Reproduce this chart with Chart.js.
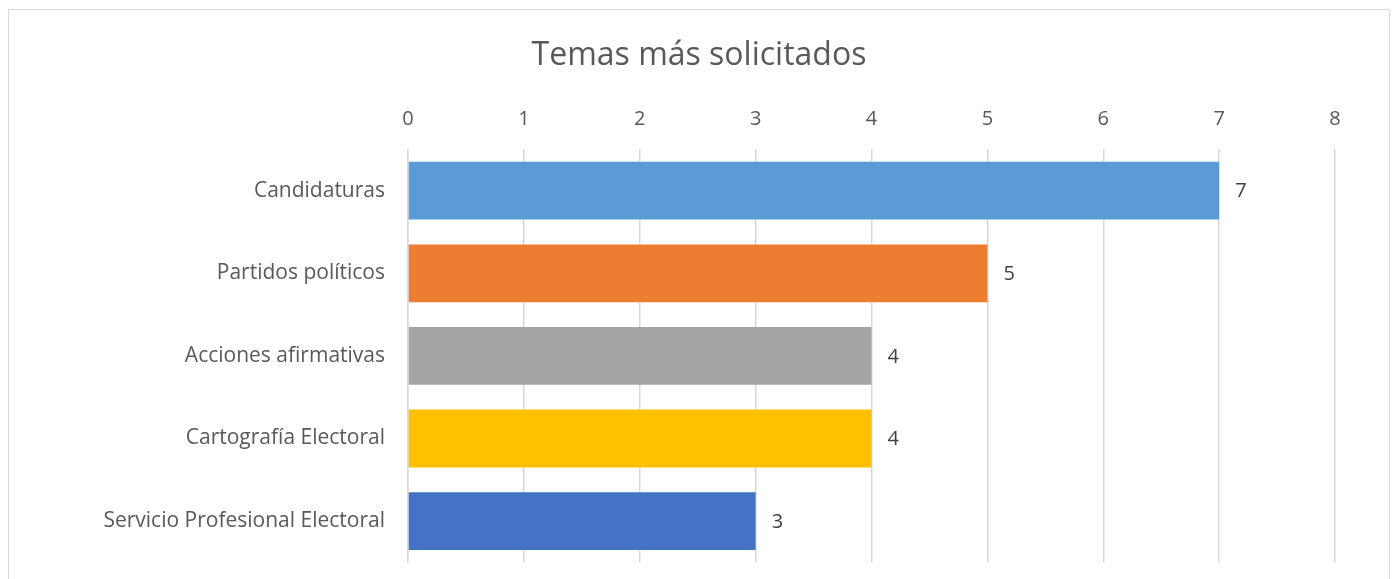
<!DOCTYPE html>
<html>
<head>
<meta charset="utf-8">
<script src="https://cdn.jsdelivr.net/npm/chart.js@4/dist/chart.umd.min.js"></script>
<style>
  html, body { margin: 0; padding: 0; background: #fff; overflow: hidden; }
  #box { position: absolute; left: 8px; top: 9px; width: 1380px; height: 620px; border: 1px solid #d9d9d9; background: #fff; }
  #c { position: absolute; left: 0; top: 0; }
</style>
</head>
<body>
<div id="box"><canvas id="c" width="1380" height="588"></canvas></div>
<script>
const categories = ["Candidaturas", "Partidos políticos", "Acciones afirmativas", "Cartografía Electoral", "Servicio Profesional Electoral"];
const values = [7, 5, 4, 4, 3];
const barColors = ["#5B9BD5", "#ED7D31", "#A5A5A5", "#FFC000", "#4472C4"];
const chartTitle = "Temas más solicitados";
const FONT = "'Open Sans', sans-serif";

const valueLabels = {
  id: "valueLabels",
  afterDatasetsDraw(chart) {
    const ctx = chart.ctx;
    const meta = chart.getDatasetMeta(0);
    ctx.save();
    ctx.font = "20px " + FONT;
    ctx.fillStyle = "#404040";
    ctx.textAlign = "left";
    ctx.textBaseline = "middle";
    meta.data.forEach((bar, i) => {
      ctx.fillText(String(chart.data.datasets[0].data[i]), bar.x + 16, bar.y + 1);
    });
    ctx.restore();
  }
};

new Chart(document.getElementById("c"), {
  type: "bar",
  data: {
    labels: categories,
    datasets: [{ data: values, backgroundColor: barColors, borderWidth: 0, barPercentage: 0.7, categoryPercentage: 1 }]
  },
  options: {
    indexAxis: "y",
    responsive: false,
    animation: false,
    layout: { padding: { left: 0, right: 0, top: 0, bottom: 5 } },
    plugins: {
      legend: { display: false },
      tooltip: { enabled: false },
      title: { display: true, text: chartTitle, color: "#595959", font: { family: FONT, size: 32, weight: "normal" }, padding: { top: 27, bottom: 0 } }
    },
    scales: {
      x: {
        position: "top",
        min: 0, max: 8,
        ticks: { stepSize: 1, color: "#595959", font: { family: FONT, size: 20 }, padding: 18 },
        grid: { color: "#d9d9d9", lineWidth: 1.5, drawTicks: false },
        border: { display: false },
        afterFit(scale) { scale.height = 74; }
      },
      y: {
        ticks: { color: "#595959", font: { family: FONT, size: 21 }, padding: 23 },
        grid: { display: false, drawTicks: false },
        border: { display: true, color: "#d9d9d9", width: 1.5 },
        afterFit(scale) { scale.width = 399; }
      },
      spacer: {
        type: "linear",
        axis: "y",
        position: "right",
        display: true,
        ticks: { display: false },
        grid: { display: false, drawTicks: false },
        border: { display: false },
        afterFit(scale) { scale.width = 54; }
      }
    }
  },
  plugins: [valueLabels]
});
</script>
</body>
</html>
